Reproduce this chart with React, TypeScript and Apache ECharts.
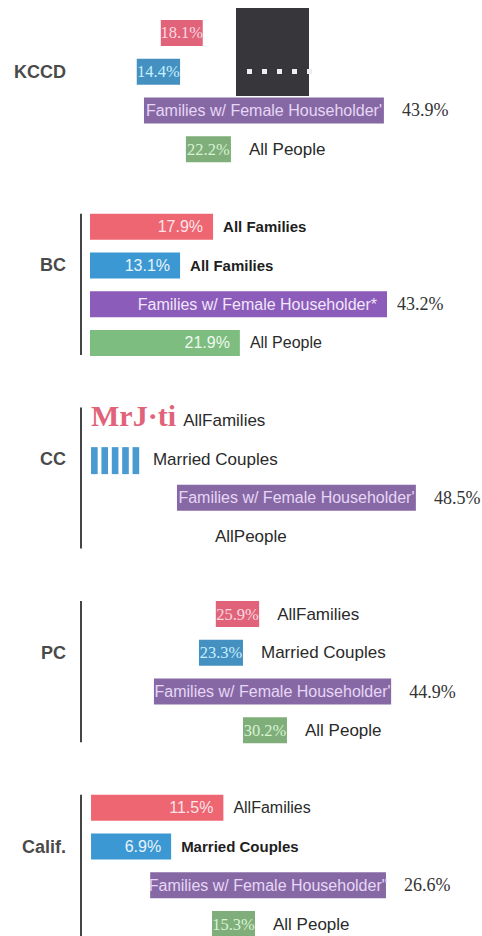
import React, { useEffect, useRef } from "react";
import * as echarts from "echarts";

// ---- DATA (bars are floating ranges on the % axis) ----
const groups = ["KCCD", "BC", "CC", "PC", "Calif."];

const redStart = [10.3, 0, 0.15, 18.3, 0.15];
const redEnd = [16.4, 17.9, 12.1, 24.6, 19.4];
const redLabel = ["18.1%", "17.9%", "MrJ·ti", "25.9%", "11.5%"];
const redTail = ["", "All Families", "AllFamilies", "AllFamilies", "AllFamilies"];

const blueStart = [6.8, 0, 0.15, 15.85, 0.15];
const blueEnd = [13.1, 13.1, 7.7, 22.25, 11.8];
const blueLabel = ["14.4%", "13.1%", "", "23.3%", "6.9%"];
const blueTail = ["", "All Families", "Married Couples", "Married Couples", "Married Couples"];

const purpleStart = [7.85, 0, 12.65, 9.3, 8.75];
const purpleEnd = [42.75, 43.2, 47.4, 43.8, 43.05];
const purpleLabel = [
  "Families w/ Female Householder'",
  "Families w/ Female Householder*",
  "Families w/ Female Householder'",
  "Families w/ Female Householder'",
  "Families w/ Female Householder\"",
];
const purpleTail = ["43.9%", "43.2%", "48.5%", "44.9%", "26.6%"];

const greenStart = [13.95, 0, 15.55, 22.25, 17.75];
const greenEnd = [20.5, 21.8, 15.55, 28.65, 24.0];
const greenLabel = ["22.2%", "21.9%", "", "30.2%", "15.3%"];
const greenTail = ["All People", "All People", "AllPeople", "All People", "All People"];

// ---- STYLE ----
const SANS = '"Liberation Sans", Arial, sans-serif';
const SERIF = '"Liberation Serif", "Times New Roman", serif';
const BAR_H = 26;

const seriesDefs = [
  {
    key: "red", start: redStart, end: redEnd, labels: redLabel, tails: redTail,
    color: "#e0637a", scanColor: "#ee6672", text: "#fbd9e0", scanText: "#fde4e9",
    kind: ["bar", "bar", "glyph", "bar", "bar"], scan: [0, 1, 0, 0, 1], bold: [0, 1, 0, 0, 0],
  },
  {
    key: "blue", start: blueStart, end: blueEnd, labels: blueLabel, tails: blueTail,
    color: "#4490c0", scanColor: "#3b98d3", text: "#c6efff", scanText: "#e8f4fc",
    kind: ["bar", "bar", "stripes", "bar", "bar"], scan: [0, 1, 0, 0, 1], bold: [0, 1, 0, 0, 1],
  },
  {
    key: "purple", start: purpleStart, end: purpleEnd, labels: purpleLabel, tails: purpleTail,
    color: "#8669a4", scanColor: "#8b5cb9", text: "#e7d6f7", scanText: "#f1e6fb",
    kind: ["bar", "bar", "bar", "bar", "bar"], scan: [0, 1, 0, 0, 0], bold: [0, 0, 0, 0, 0],
  },
  {
    key: "green", start: greenStart, end: greenEnd, labels: greenLabel, tails: greenTail,
    color: "#7fae7a", scanColor: "#7dbd80", text: "#d7f3d2", scanText: "#eef9ec",
    kind: ["bar", "bar", "none", "bar", "bar"], scan: [0, 1, 0, 0, 0], bold: [0, 0, 0, 0, 0],
  },
];
const groupHasRule = [false, true, true, true, true];

const rowIds: string[] = [];
groups.forEach((g, gi) => {
  for (let k = 0; k < 5; k++) {
    if (gi === groups.length - 1 && k === 4) break;
    rowIds.push(`${g}-${k}`);
  }
});

function makeSeries(s: any, k: number) {
  return {
    type: "custom",
    name: s.key,
    clip: false,
    encode: { x: [1, 2], y: 0 },
    data: groups.map((_, g) => [g * 5 + k, s.start[g], s.end[g]]),
    renderItem: (params: any, api: any) => {
      const g = params.dataIndex;
      const row = api.value(0);
      const a = api.coord([api.value(1), row]);
      const b = api.coord([api.value(2), row]);
      const cy = a[1];
      const x0 = a[0];
      const x1 = b[0];
      const w = x1 - x0;
      const scan = !!s.scan[g];
      const kind = s.kind[g];
      const isPurple = s.key === "purple";
      const children: any[] = [];
      if (kind === "bar") {
        children.push({
          type: "rect",
          shape: { x: x0, y: cy - BAR_H / 2, width: w, height: BAR_H },
          style: { fill: scan ? s.scanColor : s.color },
        });
      } else if (kind === "stripes") {
        const n = 5;
        const pitch = w / n;
        for (let i = 0; i < n; i++) {
          children.push({
            type: "rect",
            shape: { x: x0 + i * pitch, y: cy - BAR_H / 2 + 1, width: pitch * 0.64, height: BAR_H + 1 },
            style: { fill: "#4a9ad2" },
          });
        }
      }
      const label = s.labels[g];
      if (label) {
        if (kind === "glyph") {
          children.push({
            type: "text",
            style: {
              text: label, x: x0, y: cy - 5, align: "left", verticalAlign: "middle",
              fontFamily: SERIF, fontWeight: "bold", fontSize: 30, fill: s.color,
            },
          });
        } else {
          const style: any = {
            text: label,
            y: cy,
            verticalAlign: "middle",
            fill: scan ? s.scanText : s.text,
          };
          if (scan) {
            style.x = x1 - 10;
            style.align = "right";
          } else {
            style.x = (x0 + x1) / 2;
            style.align = "center";
          }
          if (isPurple) {
            style.fontFamily = SANS;
            style.fontSize = 16;
          } else if (scan) {
            style.fontFamily = SANS;
            style.fontSize = 16;
          } else {
            style.fontFamily = SERIF;
            style.fontSize = 16.5;
          }
          children.push({ type: "text", style });
        }
      }
      const tail = s.tails[g];
      if (tail) {
        const gap = scan || kind === "glyph" || kind === "stripes" ? 10 : 18;
        const style: any = {
          text: tail, x: x1 + gap, y: cy, align: "left", verticalAlign: "middle",
        };
        if (isPurple) {
          style.fontFamily = SERIF;
          style.fontSize = 18;
          style.fill = "#333333";
        } else if (s.bold[g]) {
          style.fontFamily = SANS;
          style.fontWeight = "bold";
          style.fontSize = 15;
          style.fill = "#1e1e1e";
        } else {
          style.fontFamily = SANS;
          style.fontSize = scan ? 16 : 17;
          style.fill = "#2a2a2a";
        }
        children.push({ type: "text", style });
      }
      return { type: "group", children };
    },
  };
}

const ruleSeries = {
  type: "custom",
  name: "rules",
  clip: false,
  encode: { x: 1, y: 0 },
  data: groups
    .map((_, g) => [g * 5, 0, g * 5 + 3])
    .filter((_, g) => groupHasRule[g]),
  renderItem: (params: any, api: any) => {
    const first = api.coord([0, api.value(0)]);
    const last = api.coord([0, api.value(2)]);
    return {
      type: "line",
      shape: { x1: first[0] - 9, y1: first[1] - 13, x2: first[0] - 9, y2: last[1] + 12 },
      style: { stroke: "#454545", lineWidth: 2 },
    };
  },
};

const artifactGraphic = [
  { type: "rect", left: 236, top: 8, shape: { width: 73, height: 88 }, style: { fill: "#37363b" }, z: 100 },
  ...[0, 1, 2, 3, 4].map((i) => ({
    type: "rect",
    left: 247 + i * 15,
    top: 69,
    shape: { width: 5, height: 5 },
    style: { fill: "#eeedf3" },
    z: 101,
  })),
];

export default function App() {
  const ref = useRef<HTMLDivElement>(null);
  useEffect(() => {
    if (!ref.current) return;
    const chart = echarts.init(ref.current, undefined, { renderer: "svg" });
    chart.setOption({
      animation: false,
      backgroundColor: "#ffffff",
      grid: { left: 90, top: 13.6, width: 385, height: 929.8, outerBoundsMode: "none" },
      xAxis: { type: "value", min: 0, max: 56, show: false },
      yAxis: {
        type: "category",
        inverse: true,
        data: rowIds,
        axisLine: { show: false },
        axisTick: { show: false },
        splitLine: { show: false },
        axisLabel: {
          interval: 0,
          margin: 24,
          fontFamily: SANS,
          fontWeight: "bold",
          fontSize: 18,
          color: "#4a4a4a",
          formatter: (_v: string, i: number) => (i % 5 === 1 ? groups[Math.floor(i / 5)] : ""),
        },
      },
      graphic: artifactGraphic,
      series: [ruleSeries, ...seriesDefs.map((s, k) => makeSeries(s, k))],
    });
    return () => chart.dispose();
  }, []);
  return (
    <div
      ref={ref}
      style={{ position: "fixed", left: 0, top: 0, width: 482, height: 936, background: "#fff" }}
    />
  );
}
